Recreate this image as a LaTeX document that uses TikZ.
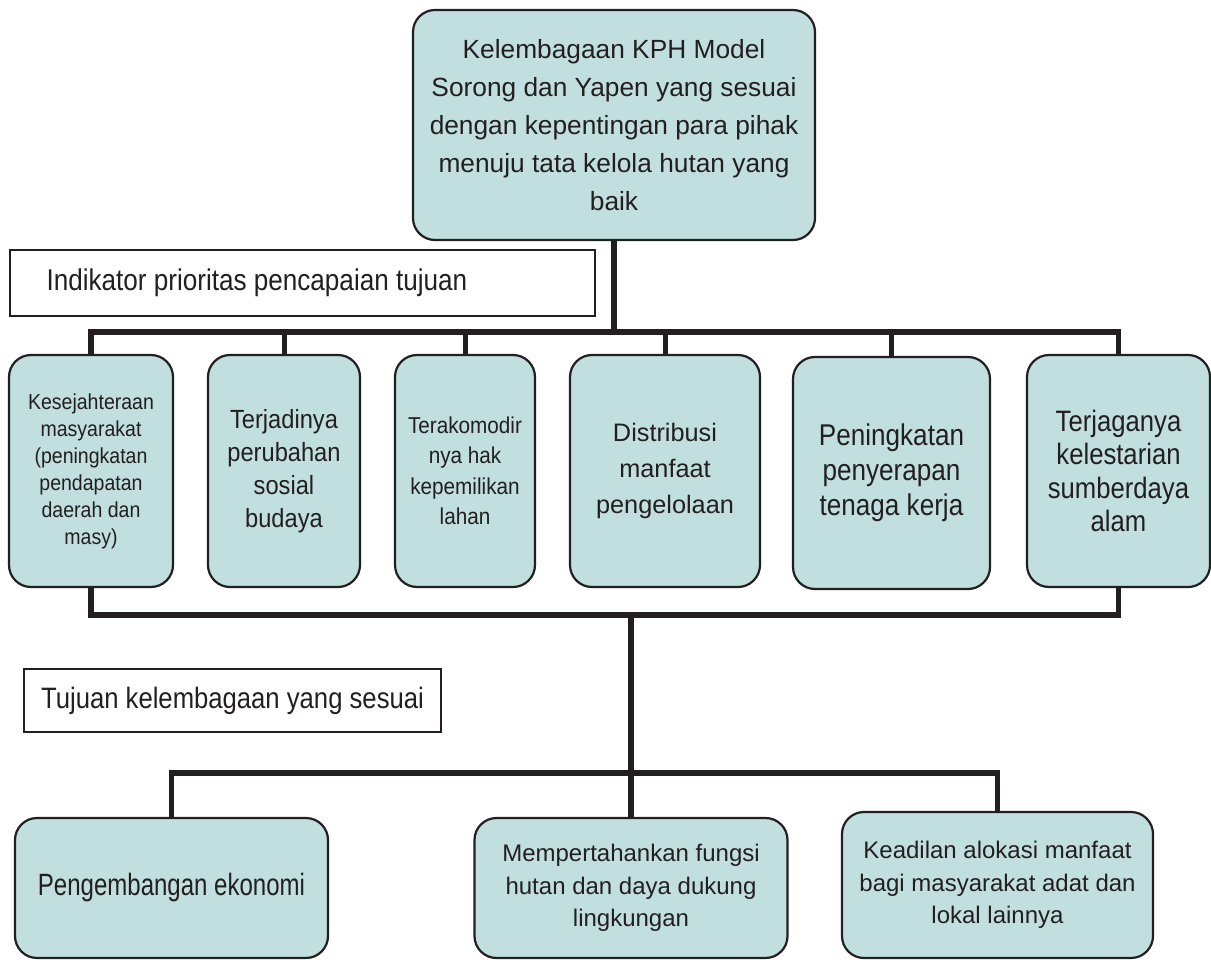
\documentclass[tikz,border=0pt]{standalone}
\usepackage{fontspec}
\setmainfont{Liberation Sans}
\newfontfamily\condA{Liberation Sans}[FakeStretch=0.78]
\newfontfamily\condB{Liberation Sans}[FakeStretch=0.87]
\newfontfamily\condC{Liberation Sans}[FakeStretch=0.9]
\definecolor{boxfill}{HTML}{C0DFDE}
\definecolor{ink}{HTML}{231F20}
\begin{document}
\begin{tikzpicture}[x=1pt,y=-1pt,
  tbox/.style={draw=ink, fill=boxfill, line width=2.2pt, rounded corners=22pt, inner sep=0pt, align=center, text=ink},
  lbox/.style={draw=ink, line width=1.4pt, inner sep=0pt, text=ink},
  bus/.style={line width=5.8pt, draw=ink, line join=miter},
  drop/.style={line width=5pt, draw=ink}]
\useasboundingbox (0,0) rectangle (1211,960);

% top box
\node[tbox, minimum width=402, minimum height=230, font=\fontsize{26.3}{38}\selectfont] (top) at (614,125)
  {Kelembagaan KPH Model\\Sorong dan Yapen yang sesuai\\dengan kepentingan para pihak\\menuju tata kelola hutan yang\\baik};

% label box 1
\node[lbox, minimum width=585, minimum height=66] (ind) at (302.5,283) {};
\node[anchor=west, inner sep=0pt, text=ink, font=\condB\fontsize{30}{34}\selectfont] (indt) at ([xshift=37pt]ind.west) {Indikator prioritas pencapaian tujuan};

% row of indicator boxes
\node[tbox, minimum width=164, minimum height=232, font=\condC\fontsize{21.7}{27}\selectfont] (b1) at (91,471)
  {Kesejahteraan\\masyarakat\\(peningkatan\\pendapatan\\daerah dan\\masy)};
\node[tbox, minimum width=152, minimum height=232, font=\condC\fontsize{26.3}{33}\selectfont] (b2) at (284,471)
  {Terjadinya\\perubahan\\sosial\\budaya};
\node[tbox, minimum width=140, minimum height=232, font=\condC\fontsize{23}{30.5}\selectfont] (b3) at (465,471)
  {Terakomodir\\nya hak\\kepemilikan\\lahan};
\node[tbox, minimum width=190, minimum height=232, font=\fontsize{25.3}{36}\selectfont] (b4) at (665,471)
  {Distribusi\\manfaat\\pengelolaan};
\node[tbox, minimum width=197, minimum height=232, font=\condB\fontsize{30}{35}\selectfont] (b5) at (891.5,473)
  {Peningkatan\\penyerapan\\tenaga kerja};
\node[tbox, minimum width=183, minimum height=232, font=\condB\fontsize{29.5}{33.5}\selectfont] (b6) at (1118.5,471)
  {Terjaganya\\kelestarian\\sumberdaya\\alam};

% label box 2
\node[lbox, minimum width=417, minimum height=63, font=\condB\fontsize{29.5}{33}\selectfont] (tuj) at (232.5,700.5) {Tujuan kelembagaan yang sesuai};

% bottom boxes
\node[tbox, minimum width=313, minimum height=140, font=\condA\fontsize{30.8}{34}\selectfont] (A) at (171.5,888)
  {Pengembangan ekonomi};
\node[tbox, minimum width=313, minimum height=140, font=\fontsize{24}{32.5}\selectfont] (B) at (631,888)
  {Mempertahankan fungsi\\hutan dan daya dukung\\lingkungan};
\node[tbox, minimum width=311, minimum height=146, font=\fontsize{24}{32.5}\selectfont] (C) at (997.5,885)
  {Keadilan alokasi manfaat\\bagi masyarakat adat dan\\lokal lainnya};

% connectors
\coordinate (busT) at (0,332);
\coordinate (busM) at (0,615);
\coordinate (busL) at (0,773);
\draw[bus] (top.south) -- (top.south |- busT);
\draw[bus] (b1.north) -- (b1.north |- busT) -- (b6.north |- busT) -- (b6.north);
\foreach \n in {b2,b3,b4,b5} \draw[drop] (\n.north |- busT) -- (\n.north);
\draw[bus] (b1.south) -- (b1.south |- busM) -- (b6.south |- busM) -- (b6.south);
\draw[bus] (B.north |- busM) -- (B.north);
\draw[bus] (A.north) -- (A.north |- busL) -- (C.north |- busL) -- (C.north);
\end{tikzpicture}
\end{document}
